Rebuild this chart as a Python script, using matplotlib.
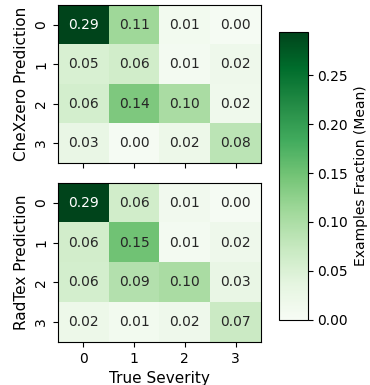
import numpy as np
import matplotlib.pyplot as plt

# rows = model prediction, cols = true severity
severity = ["0", "1", "2", "3"]
chexzero = np.array([[0.294, 0.112, 0.010, 0.003],
                     [0.052, 0.062, 0.008, 0.018],
                     [0.058, 0.138, 0.102, 0.016],
                     [0.028, 0.004, 0.020, 0.084]])
radtex = np.array([[0.293, 0.062, 0.012, 0.004],
                   [0.060, 0.150, 0.008, 0.018],
                   [0.058, 0.092, 0.102, 0.028],
                   [0.020, 0.010, 0.018, 0.068]])
panels = [("CheXzero Prediction", chexzero), ("RadTex Prediction", radtex)]

vmax = max(chexzero.max(), radtex.max())
cmap = plt.get_cmap("Greens")

fig = plt.figure(figsize=(3.7, 3.85), dpi=100)
ax_top = fig.add_axes([0.157, 0.577, 0.548, 0.41])
ax_bot = fig.add_axes([0.157, 0.112, 0.548, 0.413], sharex=ax_top)
cax = fig.add_axes([0.754, 0.169, 0.078, 0.748])

for ax, (label, mat) in zip([ax_top, ax_bot], panels):
    im = ax.imshow(mat, cmap=cmap, vmin=0, vmax=vmax, aspect="auto")
    for i in range(mat.shape[0]):
        for j in range(mat.shape[1]):
            col = "white" if mat[i, j] > 0.6 * vmax else "#262626"
            ax.text(j, i, f"{mat[i, j]:.2f}", ha="center", va="center",
                    color=col, fontsize=10)
    ax.set_yticks(range(len(severity)))
    ax.set_yticklabels(severity, rotation=90, va="center")
    ax.set_ylabel(label, fontsize=11)
    ax.set_xticks(range(len(severity)))
    ax.tick_params(labelsize=10)

ax_top.tick_params(labelbottom=False)
ax_bot.set_xticklabels(severity)
ax_bot.set_xlabel("True Severity", fontsize=11)

cb = fig.colorbar(im, cax=cax)
cb.set_ticks([0, 0.05, 0.10, 0.15, 0.20, 0.25])
cb.ax.tick_params(labelsize=10)
cb.set_label("Examples Fraction (Mean)", fontsize=10)

fig.savefig("out.png", dpi=100)
